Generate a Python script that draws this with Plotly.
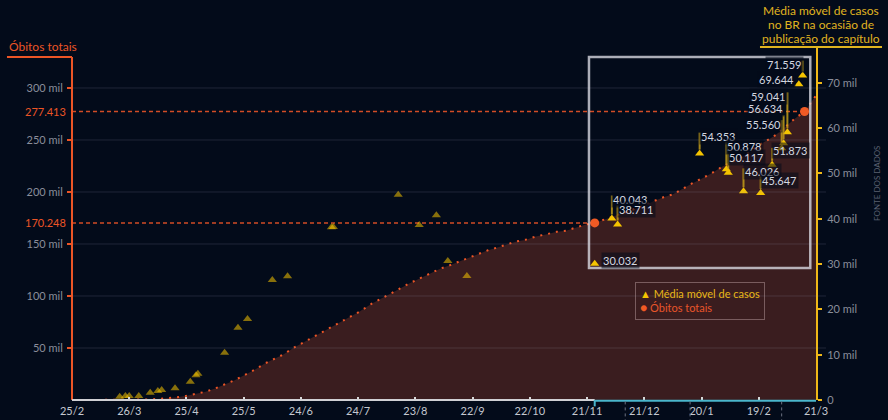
import plotly.graph_objects as go

# ---------------- DATA ----------------
# Óbitos totais acumulados (Brasil)
datas_obitos = [
    "2020-03-05", "2020-03-16", "2020-03-21", "2020-03-25", "2020-03-31", "2020-04-05",
    "2020-04-10", "2020-04-15", "2020-04-20", "2020-04-25", "2020-04-30", "2020-05-05",
    "2020-05-10", "2020-05-15", "2020-05-20", "2020-05-25", "2020-05-31", "2020-06-05",
    "2020-06-10", "2020-06-15", "2020-06-20", "2020-06-25", "2020-06-30", "2020-07-05",
    "2020-07-10", "2020-07-15", "2020-07-20", "2020-07-25", "2020-07-31", "2020-08-05",
    "2020-08-10", "2020-08-15", "2020-08-20", "2020-08-25", "2020-08-31", "2020-09-05",
    "2020-09-10", "2020-09-15", "2020-09-20", "2020-09-25", "2020-09-30", "2020-10-05",
    "2020-10-10", "2020-10-15", "2020-10-20", "2020-10-25", "2020-10-31", "2020-11-05",
    "2020-11-10", "2020-11-15", "2020-11-20", "2020-11-25", "2020-11-30", "2020-12-05",
    "2020-12-10", "2020-12-15", "2020-12-20", "2020-12-25", "2020-12-31", "2021-01-05",
    "2021-01-10", "2021-01-15", "2021-01-20", "2021-01-25", "2021-01-31", "2021-02-05",
    "2021-02-10", "2021-02-15", "2021-02-20", "2021-02-25", "2021-02-28", "2021-03-05",
    "2021-03-10", "2021-03-15", "2021-03-21",
]
obitos = [
    0, 0, 18, 59, 201, 486,
    1056, 1736, 2575, 4016, 5901, 7921,
    11123, 14817, 18859, 23473, 29314, 35026,
    39680, 43959, 49976, 55054, 59594, 64867,
    70398, 75366, 80120, 85238, 92475, 97256,
    101752, 107232, 112304, 116580, 121381, 126203,
    129522, 133119, 136532, 139808, 143952, 146675,
    149639, 152460, 154176, 157134, 159477, 161736,
    162829, 165658, 168613, 170248, 173120, 176628,
    179765, 182799, 186356, 190488, 194949, 197732,
    203100, 208246, 212831, 217664, 224504, 229294,
    233520, 239245, 245977, 251498, 254942, 262770,
    270656, 277413, 292752,
]

# Marcos destacados (óbitos totais)
marcos_datas = ["2020-11-25", "2021-03-15"]
marcos_obitos = [170248, 277413]

# Média móvel de casos na publicação dos capítulos - antes do período destacado
pub_antes_datas = [
    "2020-03-21", "2020-03-24", "2020-03-26", "2020-03-31", "2020-04-06", "2020-04-10",
    "2020-04-12", "2020-04-19", "2020-04-27", "2020-04-30", "2020-05-01", "2020-05-15",
    "2020-05-22", "2020-05-27", "2020-06-09", "2020-06-17", "2020-07-10", "2020-07-11",
    "2020-08-14", "2020-08-25", "2020-09-03", "2020-09-09", "2020-09-19",
]
pub_antes_media = [
    700, 900, 900, 900, 1600, 2000,
    2200, 2600, 4000, 5450, 5800, 10400,
    15950, 17870, 26470, 27290, 38100, 38170,
    45290, 38600, 40750, 30660, 27350,
]

# Média móvel de casos - período destacado (rotulado)
pub_datas = [
    "2020-11-25", "2020-12-04", "2020-12-07", "2021-01-19", "2021-02-02", "2021-02-03",
    "2021-02-11", "2021-02-20", "2021-02-26", "2021-03-03", "2021-03-04", "2021-03-06",
    "2021-03-12", "2021-03-14",
]
pub_media = [
    30032, 40043, 38711, 54353, 50878, 50117,
    46026, 45647, 51873, 55560, 56634, 59041,
    69644, 71559,
]

# Eixos
x_ticks = ["2020-02-25", "2020-03-26", "2020-04-25", "2020-05-25", "2020-06-24", "2020-07-24",
           "2020-08-23", "2020-09-22", "2020-10-22", "2020-11-21", "2020-12-21", "2021-01-20",
           "2021-02-19", "2021-03-21"]
x_labels = ["25/2", "26/3", "25/4", "25/5", "24/6", "24/7", "23/8", "22/9", "22/10",
            "21/11", "21/12", "20/1", "19/2", "21/3"]
y1_ticks = [50000, 100000, 150000, 200000, 250000, 300000]
y1_labels = ["50 mil", "100 mil", "150 mil", "200 mil", "250 mil", "300 mil"]
y2_ticks = [0, 10000, 20000, 30000, 40000, 50000, 60000, 70000]
y2_labels = ["0", "10 mil", "20 mil", "30 mil", "40 mil", "50 mil", "60 mil", "70 mil"]

periodo_inicio = "2020-11-25"
periodo_fim = "2021-03-21"
separadores = ["2020-12-11", "2021-01-14", "2021-03-03"]

titulo_direita = ["Média móvel de casos", "no BR na ocasião de", "publicação do capítulo"]

# ---------------- STYLE ----------------
BG = "#030b1a"
AREA = "#3a1d1f"
ORANGE = "#ec5526"
YELLOW = "#f5c400"
GOLD = "#e0b420"
GRAY_TXT = "#8a8e9a"
FONT = "Lato"

# label layout for highlighted points: (side, rise px, leader top px or None, xshift)
label_layout = [
    ("left", 3, None, 6),
    ("left", 19, 23, -1),
    ("left", 15, 19, -1),
    ("left", 17, 21, -1),
    ("left", 23, 27, -1),
    ("left", 15.5, 19, -1),
    ("left", 20, 23, -1),
    ("left", 13, 16.5, -1),
    ("left", 14, 17, -1),
    ("right", 24, 28, 1),
    ("right", 34.5, 28, 1),
    ("right", 36, 40, 1),
    ("right", 4.6, None, -3),
    ("right", 11, 15, 1),
]


def fmt(v):
    return f"{v:,}".replace(",", ".")


fig = go.Figure()

fig.add_trace(go.Scatter(
    x=datas_obitos, y=obitos, mode="lines", fill="tozeroy", fillcolor=AREA,
    line=dict(color=ORANGE, width=2, dash="2px,6px"), yaxis="y",
    showlegend=False, hoverinfo="skip"))

fig.add_trace(go.Scatter(
    x=marcos_datas, y=marcos_obitos, mode="markers", yaxis="y",
    marker=dict(color="#f05a24", size=9), showlegend=False, name="Óbitos totais"))

fig.add_trace(go.Scatter(
    x=pub_antes_datas, y=pub_antes_media, mode="markers", yaxis="y2",
    marker=dict(symbol="triangle-up", color=YELLOW, size=8, opacity=0.55),
    showlegend=False))

fig.add_trace(go.Scatter(
    x=pub_datas, y=pub_media, mode="markers", yaxis="y2",
    marker=dict(symbol="triangle-up", color=YELLOW, size=8),
    showlegend=False, name="Média móvel de casos"))

shapes = []
annotations = []

# grid lines (above area)
for v in y1_ticks:
    shapes.append(dict(type="line", xref="paper", x0=0, x1=1.0134, yref="y", y0=v, y1=v,
                       line=dict(color="rgba(150,150,175,0.2)", width=1), layer="above"))

# dashed reference lines to the milestones
for d, v in zip(marcos_datas, marcos_obitos):
    shapes.append(dict(type="line", xref="x", x0="2020-02-25", x1=d, yref="y", y0=v, y1=v,
                       line=dict(color="#d24c26", width=1.5, dash="4px,3px"), layer="below"))
    annotations.append(dict(xref="paper", x=0, xanchor="right", xshift=-4, yref="y", y=v,
                            yanchor="middle", text=fmt(v), showarrow=False,
                            font=dict(color=ORANGE, size=11, family=FONT)))

# left axis line + title underline
shapes.append(dict(type="line", xref="paper", x0=0, x1=0, yref="paper", y0=0, y1=0.9717,
                   line=dict(color=ORANGE, width=2), layer="above"))
shapes.append(dict(type="line", xref="paper", x0=-0.0874, x1=0, yref="paper", y0=0.9717,
                   y1=0.9717, line=dict(color=ORANGE, width=2), layer="above"))
annotations.append(dict(xref="paper", x=-0.0874, xanchor="left", yref="paper", y=0.9717,
                        yanchor="bottom", yshift=1, text="Óbitos totais", showarrow=False,
                        font=dict(color=ORANGE, size=12, family=FONT)))

# top-right title (one annotation per line for tight spacing)
shapes.append(dict(type="line", xref="paper", x0=0.9247, x1=1.0887, yref="paper", y0=1, y1=1,
                   line=dict(color=GOLD, width=2), layer="above"))
for i, linha in enumerate(titulo_direita):
    annotations.append(dict(xref="paper", x=1.0067, xanchor="center", yref="paper", y=1,
                            yanchor="middle", yshift=37 - 14 * i, text=linha,
                            showarrow=False, font=dict(color=GOLD, size=12, family=FONT)))

# x axis baseline (gray) and highlighted period (cyan)
shapes.append(dict(type="line", xref="x", x0="2020-02-25", x1=periodo_inicio, yref="paper",
                   y0=0, y1=0, line=dict(color="#d0d0d4", width=2), layer="above"))
shapes.append(dict(type="line", xref="x", x0=periodo_inicio, x1=periodo_fim, yref="paper",
                   y0=-0.002, y1=-0.002, line=dict(color="#4ab6cc", width=2), layer="above"))
shapes.append(dict(type="line", xref="x", x0=periodo_inicio, x1=periodo_inicio, yref="paper",
                   y0=0, y1=-0.018, line=dict(color="#4ab6cc", width=2), layer="above"))
for d in separadores:
    shapes.append(dict(type="line", xref="x", x0=d, x1=d, yref="paper", y0=-0.004, y1=-0.06,
                       line=dict(color="#6c7282", width=1, dash="3px,3px"), layer="above"))

# highlight box
shapes.append(dict(type="rect", xref="x", x0="2020-11-22", x1="2021-03-18", yref="paper",
                   y0=0.374, y1=0.9717, line=dict(color="rgba(220,220,230,0.78)", width=2.5),
                   fillcolor="rgba(0,0,0,0)", layer="above"))

# labels and leader lines for highlighted points
for d, v, (side, rise, top, xs) in zip(pub_datas, pub_media, label_layout):
    if top is not None:
        shapes.append(dict(type="line", xref="x", x0=d, x1=d, yref="y2", ysizemode="pixel",
                           yanchor=v, y0=4, y1=top,
                           line=dict(color="rgba(205,165,25,0.8)", width=2), layer="above"))
    annotations.append(dict(xref="x", x=d, yref="y2", y=v, xanchor=side, yanchor="middle",
                            xshift=xs, yshift=rise, text=fmt(v), showarrow=False,
                            bgcolor="rgba(3,11,26,0.55)", borderpad=1,
                            font=dict(color="#d4d8e0", size=11, family=FONT)))

# legend (box)
annotations.append(dict(
    xref="paper", x=0.7567, xanchor="left", yref="paper", y=0.3343, yanchor="top",
    text=("<span style='color:#f5c400;font-size:11px'>▲</span> "
          "<span style='color:#e8b818'>Média móvel de casos</span><br>"
          "<span style='color:#f05a24;font-size:12px'>●</span> "
          "<span style='color:#e8552a'>Óbitos totais</span>"),
    showarrow=False, align="left", bordercolor="rgba(200,170,170,0.45)", borderwidth=1,
    borderpad=4, font=dict(size=11, family=FONT)))

# source
annotations.append(dict(xref="paper", x=1.0914, yref="paper", y=0.612, text="FONTE DOS DADOS",
                        textangle=-90, showarrow=False,
                        font=dict(color="#5a6070", size=8, family=FONT)))

fig.update_layout(
    width=888, height=420,
    margin=dict(l=72, r=72, t=47, b=20, autoexpand=False),
    paper_bgcolor=BG, plot_bgcolor=BG,
    font=dict(family=FONT, size=11, color=GRAY_TXT),
    showlegend=False,
    hovermode=False,
    xaxis=dict(type="date", range=["2020-02-25", "2021-03-21"], tickvals=x_ticks,
               ticktext=x_labels, ticks="inside", ticklen=3, tickwidth=2, tickcolor="#d8d8d8",
               showgrid=False, showline=False, zeroline=False, automargin=False,
               tickfont=dict(color="#c4c8d0", size=11), ticklabelstandoff=3),
    yaxis=dict(range=[0, 339400], tickvals=y1_ticks, ticktext=y1_labels, ticks="outside",
               ticklen=4, tickwidth=2, tickcolor=ORANGE, showgrid=False, zeroline=False,
               showline=False, automargin=False,
               tickfont=dict(color=GRAY_TXT, size=11), ticklabelstandoff=2),
    yaxis2=dict(overlaying="y", side="right", range=[0, 77870], tickvals=y2_ticks,
                ticktext=y2_labels, ticks="outside", ticklen=4, tickwidth=2, tickcolor="#f0b818",
                showline=True, linecolor="#f0b818", linewidth=2, showgrid=False, zeroline=False,
                automargin=False, tickfont=dict(color=GRAY_TXT, size=11), ticklabelstandoff=3),
    shapes=shapes,
    annotations=annotations,
)

fig.write_html(
    "out.html",
    config={"displayModeBar": False},
    post_script="document.body.style.margin='0';document.body.style.background='#030b1a';"
                "document.body.style.overflow='hidden';",
)
